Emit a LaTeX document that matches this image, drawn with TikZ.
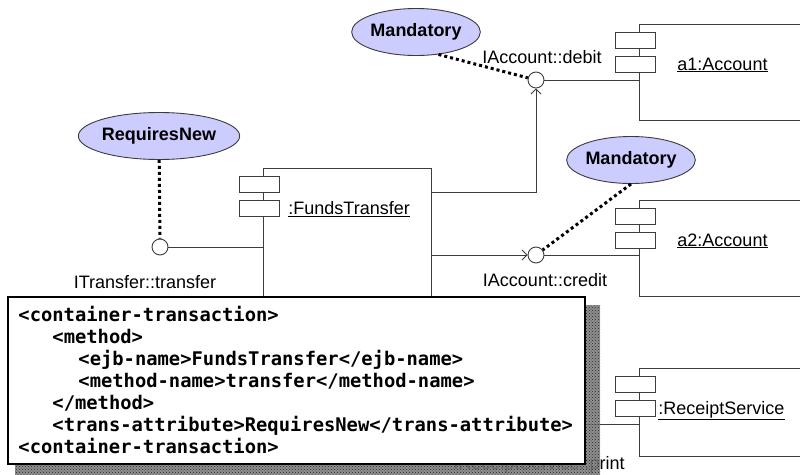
\documentclass[tikz,border=0pt]{standalone}
\usepackage{fontspec}
\setmainfont{Liberation Sans}
\newfontfamily\xmlfont{DejaVu Sans Mono}
\usetikzlibrary{shapes.geometric,arrows.meta,patterns}
\definecolor{tagblue}{RGB}{204,204,255}
\definecolor{linegray}{RGB}{60,60,60}

\begin{document}
\begin{tikzpicture}[x=1pt,y=-1pt,line width=0.9pt,
  txt/.style={font=\fontsize{18}{22}\selectfont,inner sep=0pt},
  tag/.style={ellipse,draw=linegray,fill=tagblue,inner sep=0pt,minimum height=47pt,font=\fontsize{18}{22}\selectfont\bfseries},
  comp/.style={draw=linegray,fill=white,anchor=north west,inner sep=0pt},
  port/.style={draw=linegray,fill=white,minimum width=40pt,minimum height=16pt,inner sep=0pt},
  iface/.style={circle,draw=linegray,fill=white,minimum size=16pt,inner sep=0pt},
  dots/.style={line width=3pt,dash pattern=on 3pt off 3pt},
  opentip/.style={-{Straight Barb[length=5pt,width=10pt]}},
  xmlline/.style={font=\fontsize{18.8}{22}\selectfont\xmlfont\bfseries,anchor=base west,inner sep=0pt}]
\useasboundingbox (0,0) rectangle (800,474);
%components
\node[comp,minimum width=168pt,minimum height=280pt] (ft) at (263,168) {};
\node[comp,minimum width=200pt,minimum height=96pt] (a1) at (639,24) {};
\node[comp,minimum width=200pt,minimum height=96pt] (a2) at (639,200) {};
\node[comp,minimum width=200pt,minimum height=88pt] (rs) at (639,368) {};
\foreach \c/\y in {ft/184,ft/208,a1/40,a1/64,a2/216,a2/240,rs/384,rs/408}
\node[port] (\c p\y) at (\c.west |- 0,\y) [xshift=-4pt] {};
\node[txt,anchor=base west] (ftname) at (288,214.5) {\underline{:FundsTransfer}};
\node[txt,anchor=base west] (a1name) at (677,70) {\underline{a1:Account}};
\node[txt,anchor=base west] (a2name) at (677,246) {\underline{a2:Account}};
\node[txt,anchor=base west] (rsname) at (658,414.5) {\underline{:ReceiptService}};
%interfaces
\node[iface] (itr) at (160,247) {};
\node[iface] (idebit) at (536,80) {};
\node[iface] (icredit) at (536,255) {};
\node[txt,anchor=base] (itrlbl) at (145,288.5) {ITransfer::transfer};
\node[txt,anchor=base] (debitlbl) at (542,63.5) {IAccount::debit};
\node[txt,anchor=base] (creditlbl) at (545,286.5) {IAccount::credit};
\node[txt,anchor=base east] (printlbl) at (625,469) {IReceiptService::print};
%connectors
\draw[linegray] (itr) -- (itr -| ft.west);
\draw[linegray,opentip] ([yshift=-24pt]ft.north east) -| (idebit);
\draw[linegray] (idebit) -- (idebit -| a1.west);
\draw[linegray,opentip] ([yshift=-87pt]ft.north east) -- (icredit);
\draw[linegray] (icredit) -- (icredit -| a2.west);
\coordinate (rsin) at (639,424);
\draw[linegray] (rsin -| ft.east) -- (rsin);
%transaction attributes
\node[tag,minimum width=160pt] (reqnew) at (159,136) {RequiresNew};
\node[tag,minimum width=113pt] (mand1) at (416,32) {Mandatory};
\node[tag,minimum width=112pt] (mand2) at (631,160) {Mandatory};
\draw[dots] (reqnew) -- (itr);
\draw[dots] (mand1.-45) -- (idebit);
\draw[dots] (mand2.south) -- (icredit);
%deployment descriptor
\fill[black!50,opacity=0.88] (15,305) rectangle (600,480);
\fill[pattern=crosshatch dots,pattern color=black!85] (15,305) rectangle (600,480);
\node[draw,line width=2pt,fill=white,anchor=north west,minimum width=577pt,minimum height=167pt,inner sep=0pt] (dd) at (7,296) {};
\foreach \ind/\tline [count=\n] in {0/{<container-transaction>},34/{<method>},60/{<ejb-name>FundsTransfer</ejb-name>},60/{<method-name>transfer</method-name>},34/{</method>},34/{<trans-attribute>RequiresNew</trans-attribute>},0/{<container-transaction>}}
\node[xmlline] (xml\n) at (18+\ind,299+22*\n) {\tline};
\end{tikzpicture}
\end{document}
